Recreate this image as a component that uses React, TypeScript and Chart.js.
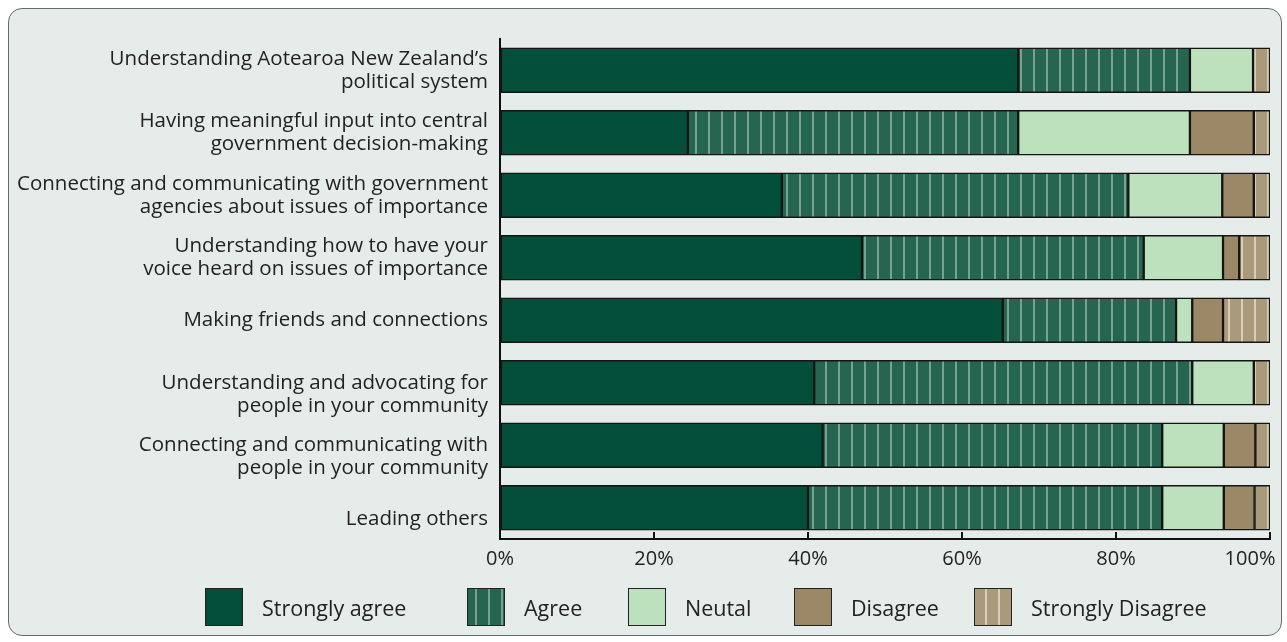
import React, { useEffect, useRef } from "react";
import { Chart, registerables } from "chart.js";

Chart.register(...registerables);

const categories: string[][] = [
  ["Understanding Aotearoa New Zealand’s", "political system"],
  ["Having meaningful input into central", "government decision-making"],
  ["Connecting and communicating with government", "agencies about issues of importance"],
  ["Understanding how to have your", "voice heard on issues of importance"],
  ["Making friends and connections"],
  ["Understanding and advocating for", "people in your community"],
  ["Connecting and communicating with", "people in your community"],
  ["Leading others"],
];

const seriesNames = ["Strongly agree", "Agree", "Neutal", "Disagree", "Strongly Disagree"];

const stronglyAgree = [67.3, 24.4, 36.6, 47.0, 65.3, 40.8, 41.9, 40.0];
const agreeVals = [22.3, 42.9, 45.0, 36.6, 22.5, 49.1, 44.1, 46.0];
const neutralVals = [8.2, 22.3, 12.2, 10.3, 2.1, 8.0, 8.0, 8.0];
const disagreeVals = [0, 8.3, 4.1, 2.1, 4.0, 0, 4.1, 4.0];
const stronglyDisagree = [2.2, 2.1, 2.1, 4.0, 6.1, 2.1, 1.9, 2.0];

const xTickValues = [0, 20, 40, 60, 80, 100];

const FONT = "'Open Sans', sans-serif";
const TEXT = "#222";

const C_SA = "#034f3a";
const C_AG = "#26654f";
const C_AG_STRIPE = "#77a190";
const C_NE = "#bde0bd";
const C_DI = "#9a8866";
const C_SD = "#a99a7b";
const C_SD_STRIPE = "#d9cdb5";

// labels in the original sit a little lower on the last rows
const loweredRows = new Set([5, 6, 7]);
// legend slot widths (layout only)
const legendSlots = [262, 161, 166, 180, 240];

function makeStripe(base: string, stripe: string): CanvasPattern | string {
  const c = document.createElement("canvas");
  c.width = 13;
  c.height = 4;
  const g = c.getContext("2d");
  if (!g) return base;
  g.fillStyle = base;
  g.fillRect(0, 0, 13, 4);
  g.fillStyle = stripe;
  g.fillRect(6, 0, 2, 4);
  const p = g.createPattern(c, "repeat");
  return p || base;
}

function swatchStyle(i: number): React.CSSProperties {
  const base: React.CSSProperties = {
    width: 36,
    height: 36,
    border: "1.5px solid #222",
    flex: "0 0 auto",
  };
  if (i === 0) return { ...base, background: C_SA };
  if (i === 1)
    return {
      ...base,
      background: `repeating-linear-gradient(90deg, ${C_AG} 0px, ${C_AG} 7px, ${C_AG_STRIPE} 7px, ${C_AG_STRIPE} 9px, ${C_AG} 9px, ${C_AG} 13px)`,
    };
  if (i === 2) return { ...base, background: C_NE };
  if (i === 3) return { ...base, background: C_DI };
  return {
    ...base,
    background: `repeating-linear-gradient(90deg, ${C_SD} 0px, ${C_SD} 10px, ${C_SD_STRIPE} 10px, ${C_SD_STRIPE} 12px, ${C_SD} 12px, ${C_SD} 13px)`,
  };
}

export default function App() {
  const canvasRef = useRef<HTMLCanvasElement | null>(null);

  useEffect(() => {
    const el = canvasRef.current;
    if (!el) return;
    const agreePattern = makeStripe(C_AG, C_AG_STRIPE);
    const sdPattern = makeStripe(C_SD, C_SD_STRIPE);
    const values = [stronglyAgree, agreeVals, neutralVals, disagreeVals, stronglyDisagree];
    const fills: any[] = [C_SA, agreePattern, C_NE, C_DI, sdPattern];

    const chart = new Chart(el, {
      type: "bar",
      data: {
        labels: categories,
        datasets: seriesNames.map((name, i) => ({
          label: name,
          data: values[i],
          backgroundColor: fills[i],
          borderColor: "#151515",
          borderWidth: 1.5,
          borderSkipped: false,
          barThickness: 45,
        })),
      },
      options: {
        indexAxis: "y",
        responsive: false,
        animation: false,
        layout: { padding: { left: 0, right: 17, top: 39, bottom: 0 } },
        plugins: {
          legend: { display: false },
          tooltip: { enabled: false },
        },
        scales: {
          x: {
            stacked: true,
            min: 0,
            max: 100,
            afterBuildTicks: (s: any) => {
              s.ticks = xTickValues.map((v) => ({ value: v }));
            },
            ticks: {
              callback: (v: any) => (v === 100 ? `${v}%\u2002\u2002\u2002\u2002` : `${v}%`),
              font: { family: FONT, size: 20 },
              color: TEXT,
              padding: 15,
              maxRotation: 0,
              autoSkip: false,
            },
            grid: {
              drawOnChartArea: false,
              drawTicks: true,
              tickLength: -7,
              color: "#111",
              lineWidth: 2,
            },
            border: { display: true, color: "#111", width: 2 },
            afterFit: (s: any) => {
              s.paddingLeft = 0;
              s.paddingRight = 0;
              s.height = 103;
            },
          },
          y: {
            stacked: true,
            ticks: {
              callback: function (this: any, _v: any, idx: number) {
                const lbl = categories[idx];
                return loweredRows.has(idx) ? ["", ...lbl] : lbl;
              },
              font: { family: FONT, size: 20.5, lineHeight: 1.12 },
              color: TEXT,
              padding: 12,
              autoSkip: false,
            },
            grid: { display: true, drawOnChartArea: false, drawTicks: false },
            border: { display: true, color: "#111", width: 2 },
            afterFit: (s: any) => {
              s.width = 500;
            },
          },
        },
      },
    });
    return () => chart.destroy();
  }, []);

  return (
    <div
      style={{
        position: "absolute",
        left: 0,
        top: 0,
        width: 1287,
        height: 642,
        background: "#ffffff",
        overflow: "hidden",
      }}
    >
      <div
        style={{
          position: "absolute",
          left: 8,
          top: 8,
          width: 1274,
          height: 628,
          boxSizing: "border-box",
          border: "1.5px solid #6a6a6a",
          borderRadius: 14,
          background: "#e6ecea",
        }}
      />
      <canvas
        ref={canvasRef}
        width={1287}
        height={642}
        style={{ position: "absolute", left: 0, top: 0, width: 1287, height: 642 }}
      />
      <div
        style={{
          position: "absolute",
          left: 205,
          top: 588,
          display: "flex",
          alignItems: "center",
          fontFamily: FONT,
          fontSize: 21.5,
          color: TEXT,
        }}
      >
        {seriesNames.map((n, i) => (
          <div
            key={n}
            style={{
              display: "flex",
              alignItems: "center",
              gap: 19,
              width: legendSlots[i],
              flex: "0 0 auto",
              whiteSpace: "nowrap",
            }}
          >
            <div style={swatchStyle(i)} />
            <span>{n}</span>
          </div>
        ))}
      </div>
    </div>
  );
}
